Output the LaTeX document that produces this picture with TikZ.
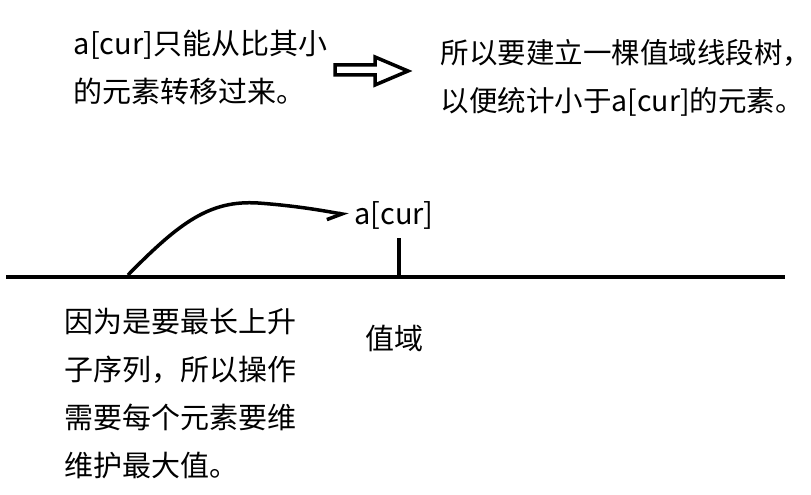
\documentclass[tikz,border=0pt]{standalone}
\usepackage{fontspec}
\setmainfont{Noto Sans CJK SC}
\usetikzlibrary{arrows.meta,positioning}

\begin{document}
\begin{tikzpicture}[x=1pt,y=-1pt,line width=3.5pt,
  txt/.style={inner sep=0pt,align=left,font=\fontsize{29}{48}\selectfont}]
\useasboundingbox (0,0) rectangle (811,495);

% Texte du haut
\node[txt,anchor=west] (from) at (72,68) {a[cur]只能从比其小\\的元素转移过来。};
\node[txt,anchor=west,font=\fontsize{28.5}{48}\selectfont] (build) at (439,78)
  {所以要建立一棵值域线段树，\\以便统计小于a[cur]的元素。};

% Flèche creuse
\draw[line join=miter] (335,65) -- (375,65) -- (375,57) -- (408,71)
  -- (375,85) -- (375,75) -- (335,75) -- cycle;

% Axe des valeurs
\draw (6,277) -- (785,277);
\coordinate (start) at (128,275);
\coordinate (cur) at (399,277);
\draw (cur) -- ++(0,-39);
\node[txt,inner sep=4pt] (acur) at (394,215) {a[cur]};
\node[txt] (range) at (394,338) {值域};
\draw[-{Straight Barb[harpoon,swap,length=14pt,width=16pt]}] (start)
  .. controls (180,222) and (210,200) .. (258,203)
  .. controls (300,206) and (330,212) .. (acur.west);

% Texte du bas
\node[txt,anchor=west] (reason) at (63,394)
  {因为是要最长上升\\子序列，所以操作\\需要每个元素要维\\维护最大值。};
\end{tikzpicture}
\end{document}
